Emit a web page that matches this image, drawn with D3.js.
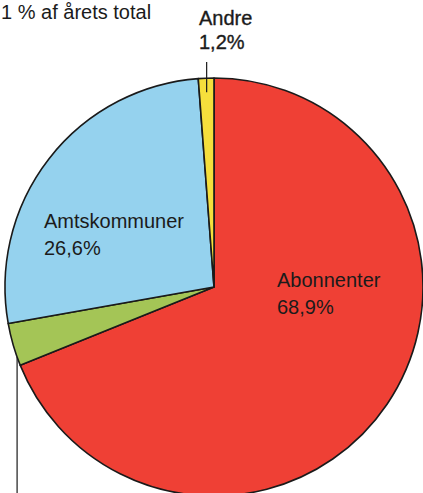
<!DOCTYPE html>
<html>
<head>
<meta charset="utf-8">
<script src="https://cdn.jsdelivr.net/npm/d3@7"></script>
<style>
  html, body { margin: 0; padding: 0; background: #ffffff; }
  svg { display: block; }
  text { font-family: "Liberation Sans", Arial, Helvetica, sans-serif; fill: #1b1b1b; }
</style>
</head>
<body>
<div id="chart"></div>
<script>
// Revenue shares (percent of the year's total)
const categories = ["Abonnenter", "Staten", "Amtskommuner", "Andre"];
const shares = [68.9, 3.3, 26.6, 1.2];
const sliceColors = ["#ef4035", "#a4c556", "#95d2ee", "#f6df3c"];
const headline = "1 % af årets total";

const width = 423, height = 493;
const cx = 214, cy = 287, radius = 209;

const dk = d3.formatLocale({ decimal: ",", thousands: ".", grouping: [3], currency: ["", " kr"] });
const pct = v => dk.format(".1f")(v) + "%";

const svg = d3.select("#chart").append("svg")
  .attr("width", width).attr("height", height);

const data = categories.map((c, i) => ({ name: c, value: shares[i], color: sliceColors[i] }));

const pie = d3.pie().value(d => d.value).sort(null).startAngle(0).endAngle(2 * Math.PI);
const arcs = pie(data);
const arc = d3.arc().innerRadius(0).outerRadius(radius);

const g = svg.append("g").attr("transform", `translate(${cx},${cy})`);

g.selectAll("path.slice").data(arcs).join("path")
  .attr("class", "slice")
  .attr("d", arc)
  .attr("fill", d => d.data.color)
  .attr("stroke", "#1a1a1a")
  .attr("stroke-width", 1.6)
  .attr("stroke-linejoin", "round");

// point on the rim at a slice's mid angle
const rimPoint = (d, r) => {
  const a = (d.startAngle + d.endAngle) / 2;
  return [r * Math.sin(a), -r * Math.cos(a)];
};

// heading fragment at the top left
svg.append("text")
  .attr("x", 1).attr("y", 19)
  .attr("font-size", 20)
  .text(headline);

// labels inside the two large slices
const inside = [
  { i: 2, x: 44, y: 228 },
  { i: 0, x: 277, y: 287 }
];
inside.forEach(p => {
  const t = svg.append("text").attr("x", p.x).attr("y", p.y).attr("font-size", 20);
  t.append("tspan").attr("x", p.x).text(data[p.i].name);
  t.append("tspan").attr("x", p.x).attr("dy", 26.5).text(pct(data[p.i].value));
});

// "Andre" with leader line from above
const andre = arcs[3];
const [ax, ay] = rimPoint(andre, radius - 14);
g.append("line")
  .attr("x1", ax).attr("y1", -radius - 16)
  .attr("x2", ax).attr("y2", ay)
  .attr("stroke", "#1a1a1a").attr("stroke-width", 1.2);
const ta = svg.append("text").attr("x", 199).attr("y", 25)
  .attr("font-size", 20).attr("stroke", "#1b1b1b").attr("stroke-width", 0.35);
ta.append("tspan").attr("x", 199).text(andre.data.name);
ta.append("tspan").attr("x", 199).attr("dy", 24).text(pct(andre.data.value));

// leader line from the small green slice running down past the frame
const small = arcs[1];
const a0 = small.startAngle + (small.endAngle - small.startAngle) * 0.2;
const sx = radius * Math.sin(a0), sy = -radius * Math.cos(a0);
g.append("line")
  .attr("x1", sx).attr("y1", sy)
  .attr("x2", sx).attr("y2", height - cy + 10)
  .attr("stroke", "#1a1a1a").attr("stroke-width", 1.2);
</script>
</body>
</html>
